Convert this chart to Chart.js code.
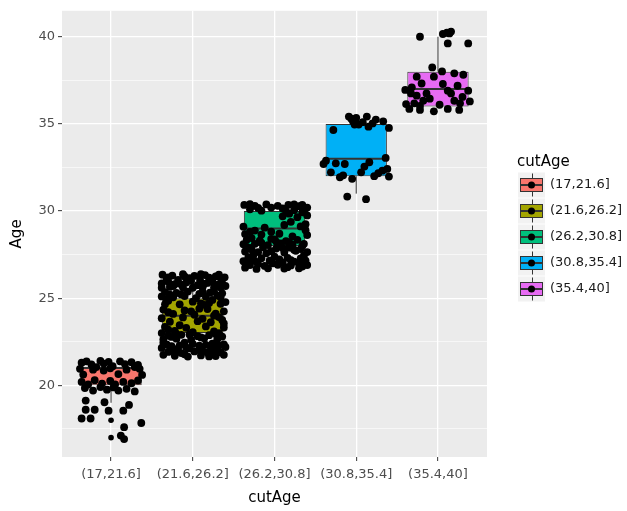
<!DOCTYPE html>
<html>
<head>
<meta charset="utf-8">
<script src="https://cdn.jsdelivr.net/npm/chart.js@4.4.1/dist/chart.umd.min.js"></script>
<style>
  html, body { margin: 0; padding: 0; background: #ffffff; }
  #wrap { width: 627px; height: 511px; }
</style>
</head>
<body>
<div id="wrap"><canvas id="chart" width="627" height="511"></canvas></div>
<script>
// Age groups on the x axis
const categories = ['(17,21.6]', '(21.6,26.2]', '(26.2,30.8]', '(30.8,35.4]', '(35.4,40]'];
const boxColors = ['#F8766D', '#A3A500', '#00BF7D', '#00B0F6', '#E76BF3'];

// Boxplot statistics per group
const lowerWhisker = [19, 22, 27, 31, 36];
const lowerQuartile = [20, 23, 28, 32, 36];
const medianAge = [21, 24, 29, 33, 37];
const upperQuartile = [21, 25, 30, 35, 38];
const upperWhisker = [21, 26, 30, 35, 40];
// Outliers: [group number, age]
const outlierAges = [[1, 18], [1, 17]];

// Y axis labelled breaks
const yTicks = [20, 25, 30, 35, 40];

// Jittered observations per group: [horizontal jitter, age]
const agesGroup1 = [
  [-0.36,21.3],[-0.30,21.38],[-0.24,21.2],[-0.13,21.4],[-0.09,21.25],[-0.03,21.35],[0.11,21.38],[0.17,21.22],
  [0.25,21.33],[0.33,21.18],[0.02,21.1],[-0.18,21.05],
  [-0.38,20.95],[-0.22,20.9],[-0.09,20.85],[-0.01,20.98],[0.19,20.9],[0.35,20.95],[0.29,21.05],
  [-0.34,20.62],[0.09,20.65],[0.38,20.6],
  [-0.36,20.2],[-0.28,20.05],[-0.20,20.3],[-0.11,20.1],[-0.01,20.25],[0.05,20.05],[0.15,20.2],[0.25,20.12],[0.33,20.28],
  [-0.32,19.85],[-0.22,19.7],[-0.13,19.9],[-0.05,19.75],[0.03,19.88],[0.09,19.7],[0.19,19.8],[0.29,19.65],
  [-0.31,19.13],[-0.08,19.03],[0.22,18.88],[-0.31,18.6],[-0.20,18.6],[-0.03,18.55],[0.15,18.55],
  [-0.36,18.1],[-0.25,18.1],[0.37,17.84],[0.16,17.6],[0.12,17.12],[0.16,16.92]
];
const agesGroup2 = [
  [-0.37,26.35],[-0.25,26.3],[-0.12,26.38],[0.02,26.28],[0.15,26.33],[0.28,26.25],[0.39,26.2],
  [-0.32,26.1],[-0.18,26.05],[-0.04,26.15],[0.09,26.02],[0.22,26.1],[0.35,26.0],
  [-0.38,25.85],[-0.22,25.8],[-0.08,25.9],[0.06,25.75],[0.18,25.88],[0.31,25.78],
  [-0.28,25.65],[-0.12,25.62],[0.12,25.65],[0.26,25.6],[0.40,25.7],
  [-0.34,25.35],[-0.20,25.3],[-0.06,25.38],[0.08,25.25],[0.21,25.32],[0.36,25.28],
  [-0.38,25.1],[-0.24,25.05],[-0.10,25.12],[0.04,25.0],[0.16,25.08],[0.30,25.15],
  [-0.30,24.85],[0.0,24.8],[0.24,24.9],[0.40,24.78],
  [-0.16,24.65],[0.14,24.62],[0.34,24.68],
  [-0.36,24.35],[-0.10,24.3],[0.18,24.38],[0.38,24.25],
  [-0.24,24.1],[0.02,24.05],[0.28,24.12],
  [-0.38,23.85],[-0.12,23.9],[0.12,23.82],[0.32,23.92],
  [-0.28,23.65],[0.06,23.68],[0.22,23.62],
  [-0.34,23.35],[-0.08,23.3],[0.16,23.38],[0.38,23.32],
  [-0.22,23.12],[0.0,23.05],[0.26,23.1],[-0.38,23.0],
  [-0.30,22.85],[-0.14,22.9],[0.06,22.82],[0.20,22.88],[0.36,22.8],
  [-0.36,22.65],[-0.20,22.68],[-0.02,22.62],[0.14,22.7],[0.30,22.64],
  [-0.32,22.35],[-0.16,22.3],[0.0,22.38],[0.16,22.32],[0.32,22.28],
  [-0.38,22.15],[-0.24,22.1],[-0.08,22.18],[0.08,22.05],[0.24,22.12],[0.40,22.2],
  [-0.30,21.92],[-0.14,21.85],[0.02,21.95],[0.18,21.88],[0.34,21.9],
  [-0.22,21.7],[-0.06,21.65],[0.10,21.72],[0.28,21.68],
  [-0.02,26.0],[0.32,26.35],[-0.30,25.95],[0.24,25.95],[0.0,25.6],[-0.38,25.6],[-0.28,25.2],[0.26,25.4],
  [0.10,24.7],[-0.34,24.65],[0.26,24.0],[-0.02,24.25],[-0.20,22.95],[0.28,22.95],[-0.10,22.45],[0.24,22.4],
  [-0.36,21.75],[0.38,21.75],[-0.28,22.0],[0.26,21.95],[0.38,23.55],[-0.16,23.45],
  [-0.30,26.2],[-0.10,26.25],[0.10,26.38],[0.20,26.18],[-0.24,25.7],[0.36,25.85],[-0.14,25.78],[0.14,25.82],
  [0.34,25.62],[-0.14,25.22],[0.12,25.38],[0.34,25.05],[-0.32,24.95],[0.20,24.72],
  [-0.26,22.25],[0.08,22.28],[0.22,22.22],[0.38,22.35],[-0.36,22.45],[-0.04,22.12],[-0.18,22.02],[0.12,21.98],
  [0.30,22.05],[-0.10,21.78],[0.20,21.66],[-0.26,22.78],[0.10,22.75],[0.32,23.0],[-0.04,22.92],[-0.30,23.2],
  [0.08,24.4],[-0.30,24.2],[0.36,23.75]
];
const agesGroup3 = [
  [-0.37,30.35],[-0.24,30.3],[-0.10,30.38],[0.04,30.3],[0.17,30.36],[0.30,30.28],[0.40,30.2],
  [-0.30,30.1],[0.10,30.15],[0.24,30.05],[0.37,30.1],[-0.16,30.02],
  [0.18,29.85],[0.34,29.92],
  [0.10,29.7],[0.28,29.65],[0.40,29.75],
  [0.20,29.38],[0.38,29.25],
  [-0.38,29.1],[-0.12,29.05],[0.32,29.12],
  [-0.24,28.88],[-0.04,28.82],[0.38,28.9],
  [-0.36,28.68],[-0.16,28.65],[0.06,28.7],[0.40,28.62],
  [-0.34,28.35],[-0.18,28.3],[0.0,28.38],[0.14,28.28],[0.28,28.35],
  [-0.38,28.1],[-0.24,28.12],[-0.08,28.05],[0.08,28.15],[0.22,28.08],[0.36,28.12],
  [-0.30,27.88],[-0.14,27.92],[0.02,27.85],[0.18,27.9],[0.32,27.82],
  [-0.36,27.68],[-0.20,27.65],[-0.04,27.7],[0.12,27.62],[0.26,27.72],[0.40,27.65],
  [-0.32,27.35],[-0.16,27.3],[0.0,27.38],[0.16,27.32],[0.32,27.28],
  [-0.38,27.12],[-0.22,27.08],[-0.06,27.15],[0.10,27.05],[0.24,27.1],[0.38,27.15],
  [-0.30,26.9],[-0.12,26.85],[0.04,26.92],[0.20,26.88],[0.34,26.82],
  [-0.22,26.68],[0.12,26.7],
  [-0.04,30.2],[0.24,30.38],[-0.34,27.95],[0.10,27.88],[0.36,27.45],[-0.26,27.45],[-0.08,26.72],
  [0.30,26.72],[-0.36,26.75],[0.02,28.25],[-0.28,28.45],[0.22,28.55],
  [-0.26,27.2],[0.06,27.22],[0.20,27.18],[0.30,26.98],[-0.20,26.96],[0.16,26.78],[-0.34,27.0],[0.40,26.9],
  [-0.02,27.0],[-0.28,27.8],[0.24,27.78],[-0.10,27.58],[0.34,28.0],[-0.16,28.18],[0.18,28.2],[-0.04,28.4],
  [-0.30,30.4],[0.34,30.36],[-0.20,30.18],[0.14,30.0],[0.12,29.2],[-0.30,28.8]
];
const agesGroup4 = [
  [-0.09,35.42],[0.13,35.42],[-0.04,35.15],[0.03,34.96],[-0.02,34.96],[0.15,34.84],[0.20,35.03],[0.33,35.15],
  [0.40,34.77],[-0.28,34.65],[-0.06,35.3],[0.08,35.1],[0.24,35.25],[0.0,35.35],
  [-0.37,32.89],[-0.40,32.70],[-0.25,32.74],[-0.14,32.70],[0.16,32.80],[0.36,33.05],[0.10,32.55],
  [-0.31,32.22],[-0.20,31.94],[-0.05,31.85],[0.06,32.22],[0.27,32.17],[0.32,32.32],[0.38,32.42],[0.40,31.98],
  [-0.16,32.05],[0.22,32.0],
  [-0.11,30.83],[0.12,30.68]
];
const agesGroup5 = [
  [-0.22,40.0],[0.06,40.16],[0.11,40.23],[0.16,40.30],[0.14,40.19],[0.12,39.62],[0.37,39.62],
  [-0.07,38.24],[0.05,38.01],[-0.26,37.71],[-0.05,37.71],[0.31,37.82],[0.20,37.9],
  [-0.20,37.32],[0.06,37.29],[0.24,37.19],[-0.32,37.1],
  [-0.40,36.95],[-0.33,36.75],[-0.14,36.75],[-0.26,36.62],[0.12,36.91],[0.16,36.75],[0.37,36.91],
  [-0.18,36.33],[-0.39,36.14],[-0.29,36.18],[0.20,36.33],[0.27,36.18],[0.39,36.29],[-0.10,36.45],[0.30,36.55],
  [-0.35,35.86],[-0.22,35.80],[-0.05,35.72],[0.12,35.86],[0.26,35.80],[-0.22,36.03],[0.02,36.1]
];

const groups = [agesGroup1, agesGroup2, agesGroup3, agesGroup4, agesGroup5];

const FONT = "'DejaVu Sans', 'Liberation Sans', sans-serif";
const BOX_HALF = 0.375;

// Build plotted points from the data arrays
const jitterPoints = [];
groups.forEach((g, i) => g.forEach(([dx, age]) => jitterPoints.push({ x: i + 1 + dx, y: age })));

const boxBars = categories.map((c, i) => ({ x: i + 1, y: [lowerQuartile[i], upperQuartile[i]] }));

const whiskerSegments = [];
categories.forEach((c, i) => {
  whiskerSegments.push({ x: i + 1, y: lowerWhisker[i] }, { x: i + 1, y: lowerQuartile[i] }, { x: i + 1, y: null });
  whiskerSegments.push({ x: i + 1, y: upperQuartile[i] }, { x: i + 1, y: upperWhisker[i] }, { x: i + 1, y: null });
});

const medianSegments = [];
categories.forEach((c, i) => {
  medianSegments.push({ x: i + 1 - BOX_HALF, y: medianAge[i] }, { x: i + 1 + BOX_HALF, y: medianAge[i] }, { x: i + 1, y: null });
});

const outlierPoints = outlierAges.map(([g, age]) => ({ x: g, y: age }));

const yMinor = yTicks.map(v => v - 2.5);
const yGrid = yMinor.concat(yTicks).sort((a, b) => a - b);

// Grey panel background
const panelBackground = {
  id: 'panelBackground',
  beforeDraw(chart) {
    const { ctx, chartArea: a } = chart;
    ctx.save();
    ctx.fillStyle = '#EBEBEB';
    ctx.fillRect(a.left, a.top, a.right - a.left, a.bottom - a.top);
    ctx.restore();
  }
};

// Legend with boxplot keys
const boxLegend = {
  id: 'boxLegend',
  afterDraw(chart) {
    const ctx = chart.ctx;
    ctx.save();
    ctx.fillStyle = '#000000';
    ctx.font = '15px ' + FONT;
    ctx.textAlign = 'left';
    ctx.textBaseline = 'alphabetic';
    ctx.fillText('cutAge', 517, 166);
    const keyLeft = 518, keyW = 27, keyH = 25, rowH = 26, firstCenter = 185;
    categories.forEach((label, i) => {
      const cy = firstCenter + i * rowH;
      const cx = keyLeft + keyW / 2;
      ctx.fillStyle = '#F2F2F2';
      ctx.fillRect(keyLeft, cy - keyH / 2, keyW, keyH);
      ctx.strokeStyle = '#333333';
      ctx.lineWidth = 1;
      ctx.beginPath();
      ctx.moveTo(Math.round(cx) + 0.5, cy - keyH / 2 + 1);
      ctx.lineTo(Math.round(cx) + 0.5, cy + keyH / 2 - 1);
      ctx.stroke();
      ctx.fillStyle = boxColors[i];
      ctx.fillRect(keyLeft + 2, cy - 7, keyW - 4, 14);
      ctx.strokeRect(keyLeft + 2.5, cy - 6.5, keyW - 5, 13);
      ctx.lineWidth = 2;
      ctx.beginPath();
      ctx.moveTo(keyLeft + 2, cy);
      ctx.lineTo(keyLeft + keyW - 2, cy);
      ctx.stroke();
      ctx.fillStyle = '#000000';
      ctx.beginPath();
      ctx.arc(cx, cy, 3.5, 0, Math.PI * 2);
      ctx.fill();
      ctx.fillStyle = '#1A1A1A';
      ctx.font = '13px ' + FONT;
      ctx.textBaseline = 'middle';
      ctx.fillText(label, 550, cy);
      ctx.textBaseline = 'alphabetic';
    });
    ctx.restore();
  }
};

new Chart(document.getElementById('chart'), {
  type: 'bar',
  data: {
    datasets: [
      {
        type: 'scatter',
        data: jitterPoints,
        backgroundColor: '#000000',
        pointRadius: 3.9,
        pointBorderWidth: 0,
        order: 0
      },
      {
        type: 'scatter',
        data: outlierPoints,
        backgroundColor: '#000000',
        pointRadius: 2.8,
        pointBorderWidth: 0,
        order: 1
      },
      {
        type: 'line',
        data: medianSegments,
        borderColor: '#333333',
        borderWidth: 2,
        pointRadius: 0,
        spanGaps: false,
        order: 2
      },
      {
        type: 'line',
        data: whiskerSegments,
        borderColor: '#333333',
        borderWidth: 1,
        pointRadius: 0,
        spanGaps: false,
        order: 3
      },
      {
        type: 'bar',
        data: boxBars,
        backgroundColor: boxColors,
        borderColor: '#333333',
        borderWidth: 1,
        borderSkipped: false,
        categoryPercentage: 1,
        barPercentage: 0.75,
        order: 4
      }
    ]
  },
  options: {
    responsive: false,
    devicePixelRatio: 1,
    animation: false,
    events: [],
    layout: { padding: { top: 10, right: 140, bottom: 0, left: 0 } },
    plugins: {
      legend: { display: false },
      tooltip: { enabled: false }
    },
    scales: {
      x: {
        type: 'linear',
        min: 0.4,
        max: 5.6,
        offset: false,
        bounds: 'data',
        afterBuildTicks: s => { s.ticks = categories.map((c, i) => ({ value: i + 1 })); },
        afterFit: s => { s.height = 54; },
        ticks: {
          autoSkip: false,
          maxRotation: 0,
          padding: 6,
          color: '#4D4D4D',
          font: { family: FONT, size: 13 },
          callback: v => categories[Math.round(v) - 1]
        },
        grid: {
          offset: false,
          color: '#FFFFFF',
          lineWidth: 1.3,
          tickColor: '#333333',
          tickWidth: 1,
          tickLength: 4
        },
        border: { display: false },
        title: {
          display: true,
          text: 'cutAge',
          color: '#000000',
          font: { family: FONT, size: 15 },
          padding: { top: 0, bottom: 4 }
        }
      },
      y: {
        type: 'linear',
        min: 15.89,
        max: 41.49,
        bounds: 'data',
        afterBuildTicks: s => { s.ticks = yGrid.map(v => ({ value: v })); },
        afterFit: s => { s.width = 62; },
        ticks: {
          autoSkip: false,
          padding: 3,
          color: '#4D4D4D',
          font: { family: FONT, size: 13 },
          callback: v => (yTicks.includes(v) ? String(v) : '')
        },
        grid: {
          color: '#FFFFFF',
          lineWidth: ctx => (ctx.tick && yTicks.includes(ctx.tick.value) ? 1.3 : 0.6),
          tickColor: ctx => (ctx.tick && yTicks.includes(ctx.tick.value) ? '#333333' : 'rgba(0,0,0,0)'),
          tickWidth: 1,
          tickLength: 4
        },
        border: { display: false },
        title: {
          display: true,
          text: 'Age',
          color: '#000000',
          font: { family: FONT, size: 15 },
          padding: { top: 8, bottom: 0 }
        }
      }
    }
  },
  plugins: [panelBackground, boxLegend]
});
</script>
</body>
</html>
